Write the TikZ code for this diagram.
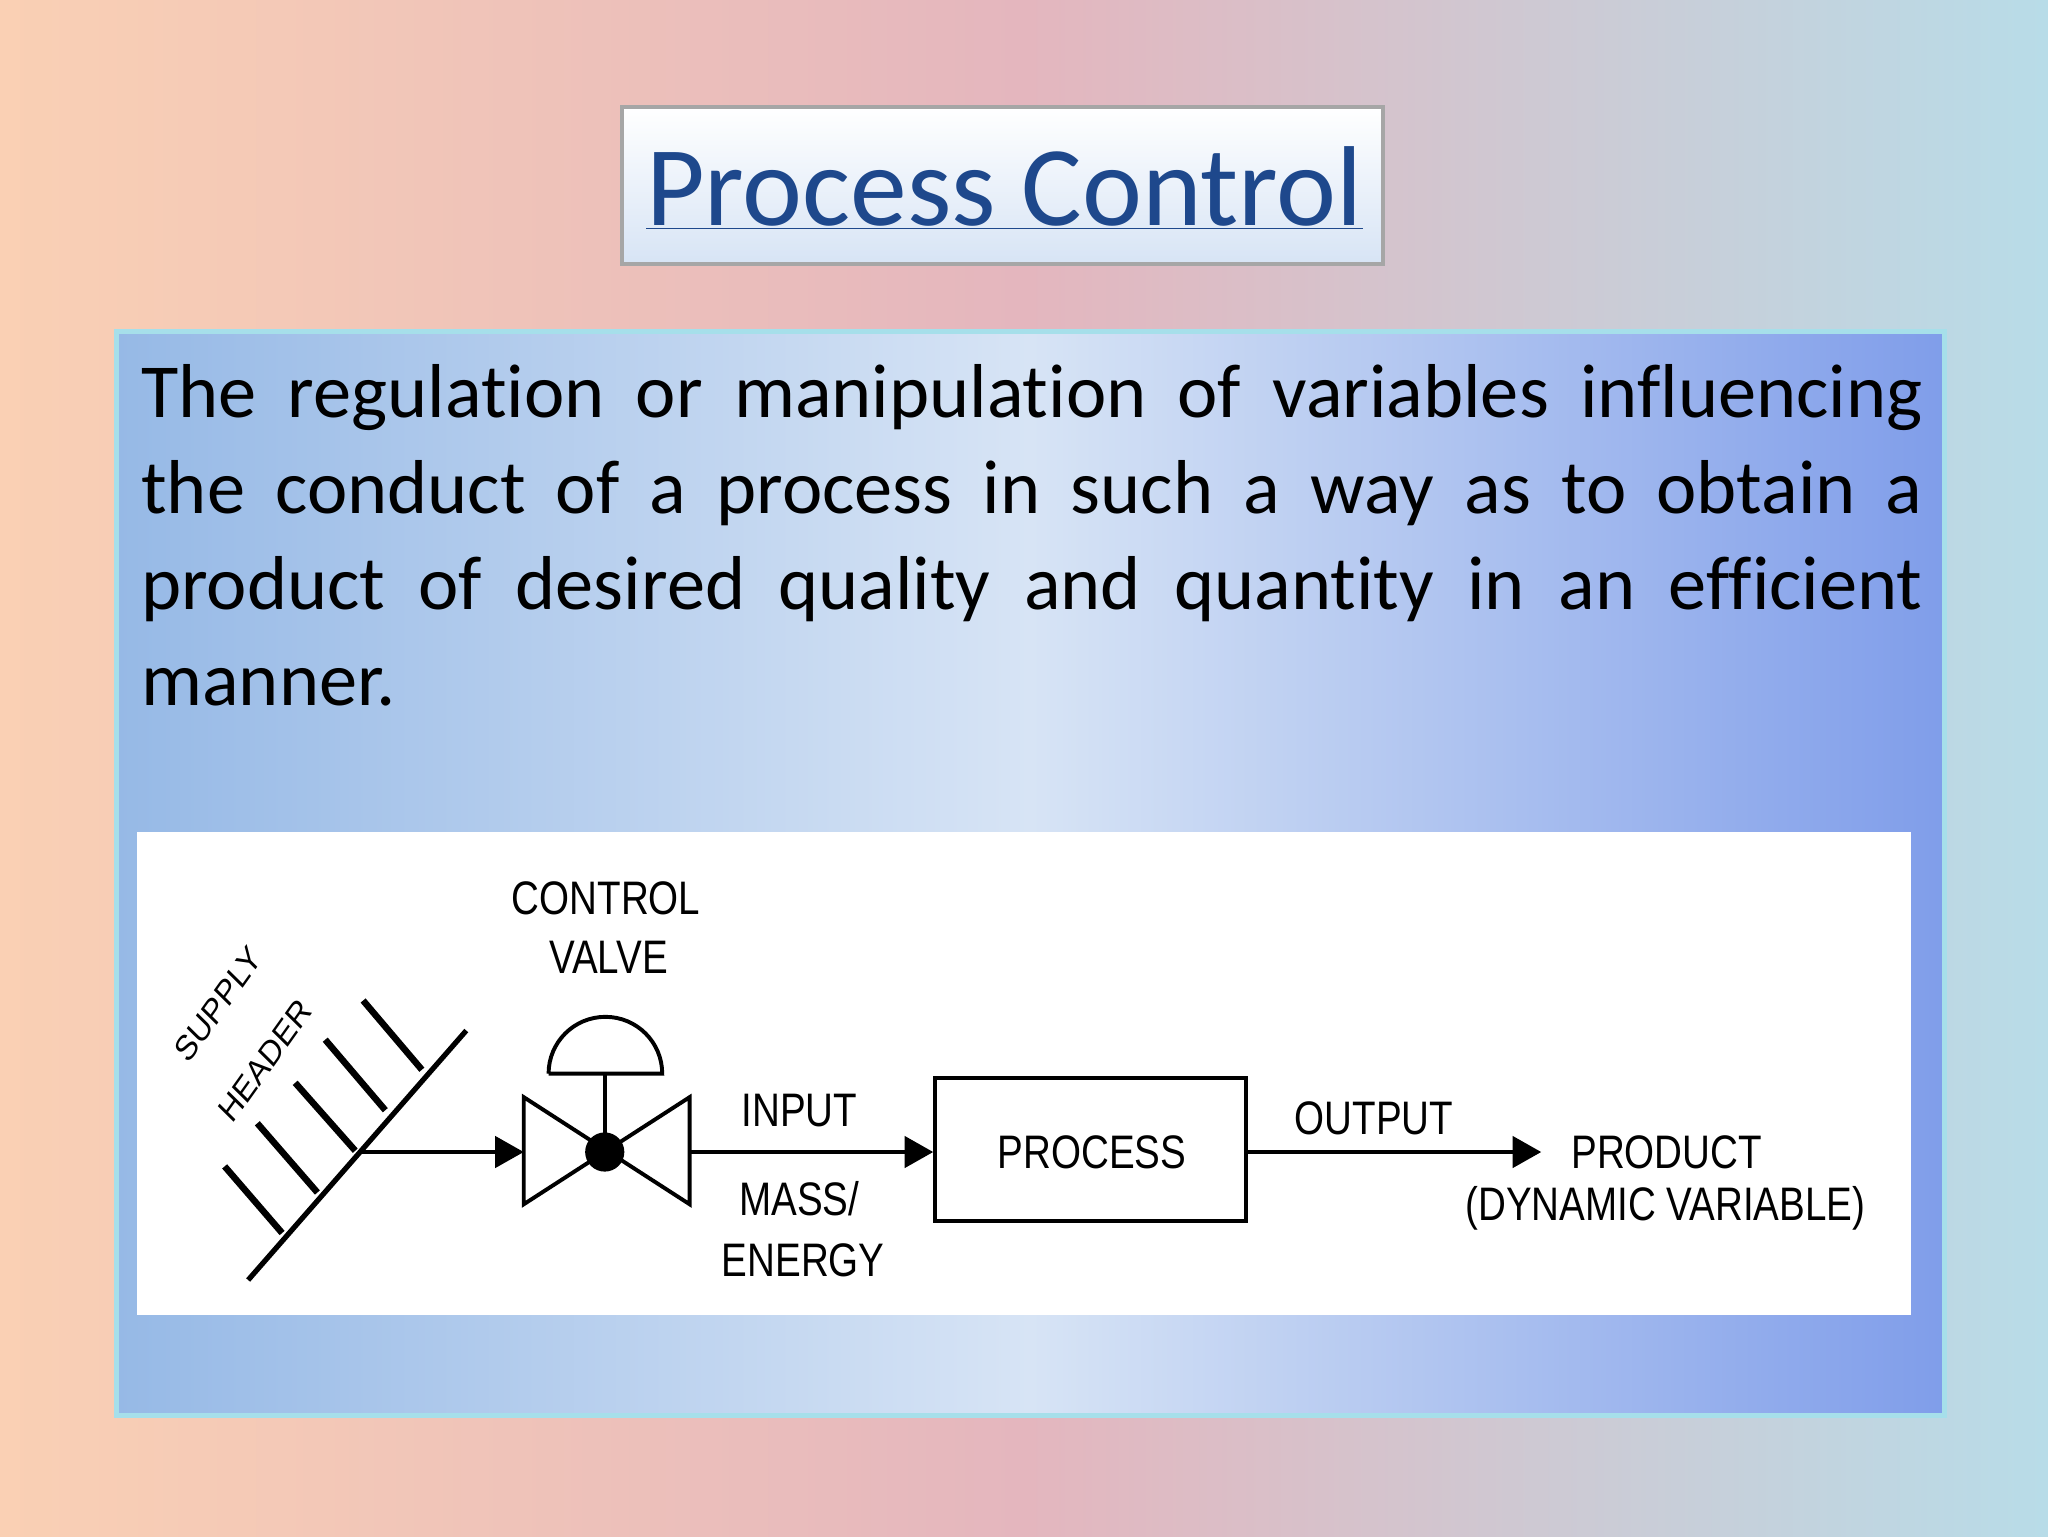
\documentclass[tikz,border=0pt]{standalone}
\usepackage{fontspec}
\setmainfont{Carlito}[Ligatures={NoCommon}]
\newfontfamily\diag{Liberation Sans}
\usetikzlibrary{arrows.meta}
\definecolor{peach}{RGB}{250,208,180}
\definecolor{pinkc}{RGB}{228,182,190}
\definecolor{lblue}{RGB}{184,220,232}
\definecolor{ttl}{RGB}{30,72,140}
\definecolor{pbl}{RGB}{150,185,230}
\definecolor{pbl2}{RGB}{215,228,245}
\newcommand{\jline}[1]{\makebox[1364pt][s]{#1}}
\begin{document}
\begin{tikzpicture}[x=1pt,y=-1pt,
  lbl/.style={font=\diag\fontsize{36}{40}\selectfont, inner sep=0pt, xscale=0.82},
  slbl/.style={font=\diag\fontsize{27}{30}\selectfont, inner sep=0pt, xscale=0.85},
  pipe/.style={line width=3pt},
  arr/.style={pipe,-{Triangle[length=22pt,width=24pt]}},
  tooth/.style={line width=5pt}]
\useasboundingbox (0,0) rectangle (1568,1176);
\shade[left color=peach, right color=lblue, middle color=pinkc] (0,0) rectangle (1568,1176);
% title
\shade[top color=white, bottom color=pbl2, draw=gray!70, line width=3pt] (476,82) rectangle (1059,202);
\node[font=\fontsize{87}{92}\selectfont, text=ttl, inner sep=0pt] (title) at (769,144) {\underline{Process Control}};
% panel
\shade[left color=pbl, right color=pbl!85!blue, middle color=pbl2, draw=lblue!90!cyan, line width=4pt] (89,254) rectangle (1489,1084);
\node[anchor=base west, align=left, inner sep=0pt, font=\fontsize{58.5}{73.5}\selectfont] (para) at (108,540.5)
 {\jline{The regulation or manipulation of variables influencing}\\
  \jline{the conduct of a process in such a way as to obtain a}\\
  \jline{product of desired quality and quantity in an efficient}\\
  manner.};
% white box
\fill[white] (105,637) rectangle (1463,1007);
% supply header
\draw[line width=4pt] (190,980) -- (357,789);
\draw[tooth] (172,893) -- (216,944);
\draw[tooth] (197,860) -- (243,913);
\draw[tooth] (226,829) -- (272,881);
\draw[tooth] (249,796) -- (295,850);
\draw[tooth] (278,766) -- (323,819);
\node[slbl, rotate=50] (sup) at (167,769) {SUPPLY};
\node[slbl, rotate=50] (hdr) at (203,812) {HEADER};
\coordinate (hs) at (274,882);
% valve
\coordinate (vc) at (463,882);
\draw[line width=3pt] (401,840) -- (401,922) -- (528,840) -- (528,922) -- cycle;
\fill (vc) circle (15pt);
\draw[line width=3pt] (vc) -- (463,822);
\draw[line width=3pt] (420,822) -- (507,822) arc[start angle=0, end angle=-180, radius=43.5];
\node[lbl] (cv1) at (464,688) {CONTROL};
\node[lbl] (cv2) at (466,733) {VALVE};
\coordinate (vl) at (401,882);
\coordinate (vr) at (528,882);
\draw[arr] (hs) -- (vl);
% process
\node[draw, line width=3pt, minimum width=238pt, minimum height=109pt, inner sep=0pt] (proc) at (835,880) {};
\node[lbl] (ptxt) at (836,882) {PROCESS};
\draw[arr] (vr) -- (proc.west |- vr);
\node[lbl] (in) at (612,850) {INPUT};
\node[lbl] (mass) at (612,918) {MASS/};
\node[lbl] (en) at (615,965) {ENERGY};
\coordinate (pe) at (1180,882);
\draw[arr] (proc.east |- vr) -- (pe);
\node[lbl] (out) at (1052,856) {OUTPUT};
\node[lbl] (prod) at (1276,882) {PRODUCT};
\node[lbl] (dyn) at (1275,925) {(DYNAMIC VARIABLE)};
\end{tikzpicture}
\end{document}
